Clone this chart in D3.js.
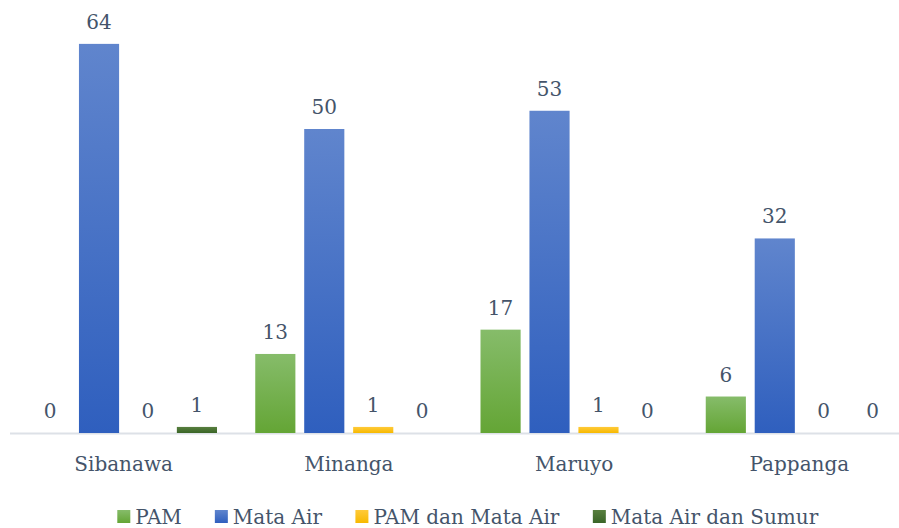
<!DOCTYPE html>
<html>
<head>
<meta charset="utf-8">
<script src="https://cdn.jsdelivr.net/npm/d3@7"></script>
<style>
  body { margin: 0; background: #fff; }
  svg text { font-family: "DejaVu Serif", serif; fill: #44546a; }
</style>
</head>
<body>
<svg class="chart" width="899" height="528"></svg>
<script>
const categories = ["Sibanawa", "Minanga", "Maruyo", "Pappanga"];
const seriesNames = ["PAM", "Mata Air", "PAM dan Mata Air", "Mata Air dan Sumur"];
const pam = [0, 13, 17, 6];
const mataAir = [64, 50, 53, 32];
const pamMataAir = [0, 1, 1, 0];
const mataAirSumur = [1, 0, 0, 0];

const seriesValues = [pam, mataAir, pamMataAir, mataAirSumur];
const colors = [
  ["#86bc6a", "#64a535"],
  ["#6085cd", "#2f5fbe"],
  ["#ffca3a", "#f7b900"],
  ["#587f3f", "#3a6527"],
];

const svg = d3.select(".chart");
const defs = svg.append("defs");
colors.forEach((c, i) => {
  const grad = defs.append("linearGradient")
    .attr("id", "grad" + i)
    .attr("x1", 0).attr("y1", 0).attr("x2", 0).attr("y2", 1);
  grad.append("stop").attr("offset", "0%").attr("stop-color", c[0]);
  grad.append("stop").attr("offset", "100%").attr("stop-color", c[1]);
});

const baseY = 433;
const x0 = d3.scaleBand().domain(categories).range([11, 912]);
const x1 = d3.scaleBand().domain(seriesNames).range([19, 206]).paddingInner(0.18);
const y = d3.scaleLinear().domain([0, 70]).range([baseY, baseY - 70 * 6.08]);

const rows = categories.map((c, ci) => ({
  cat: c,
  vals: seriesNames.map((s, si) => ({ series: s, si, value: seriesValues[si][ci] })),
}));

// axis
const axis = svg.append("g")
  .attr("transform", `translate(0,${baseY})`)
  .call(d3.axisBottom(x0).tickSize(0).tickPadding(0));
axis.select(".domain").attr("stroke", "#dde1e7").attr("stroke-width", 2).attr("d", "M10,0.5H899");
axis.selectAll(".tick text")
  .attr("y", 38)
  .attr("dy", 0)
  .attr("font-size", "20px")
  .style("font-family", "DejaVu Serif, serif")
  .attr("fill", "#44546a");

// bars
const group = svg.append("g")
  .selectAll("g")
  .data(rows)
  .join("g")
  .attr("transform", (d) => `translate(${x0(d.cat)},0)`);

group.selectAll("rect")
  .data((d) => d.vals)
  .join("rect")
  .attr("x", (d) => x1(d.series))
  .attr("y", (d) => y(d.value))
  .attr("width", x1.bandwidth())
  .attr("height", (d) => baseY - y(d.value))
  .attr("fill", (d) => `url(#grad${d.si})`);

group.selectAll("text.val")
  .data((d) => d.vals)
  .join("text")
  .attr("class", "val")
  .attr("x", (d) => x1(d.series) + x1.bandwidth() / 2)
  .attr("y", (d) => y(d.value) - 15)
  .attr("text-anchor", "middle")
  .attr("font-size", "20px")
  .text((d) => d.value);

// legend
const legend = svg.append("g").attr("transform", "translate(0,524)");
const items = legend.selectAll("g")
  .data(seriesNames)
  .join("g");
items.append("rect")
  .attr("x", 0).attr("y", -14)
  .attr("width", 13).attr("height", 13)
  .attr("fill", (d, i) => `url(#grad${i})`);
items.append("text")
  .attr("x", 18)
  .attr("y", 0)
  .attr("font-size", "20px")
  .text((d) => d);

let widths = [];
items.each(function () {
  widths.push(this.getBBox().width);
});
const gap = 33;
const total = d3.sum(widths) + gap * (widths.length - 1);
let cx = 468 - total / 2;
items.attr("transform", (d, i) => {
  const t = `translate(${cx},0)`;
  cx += widths[i] + gap;
  return t;
});
</script>
</body>
</html>
